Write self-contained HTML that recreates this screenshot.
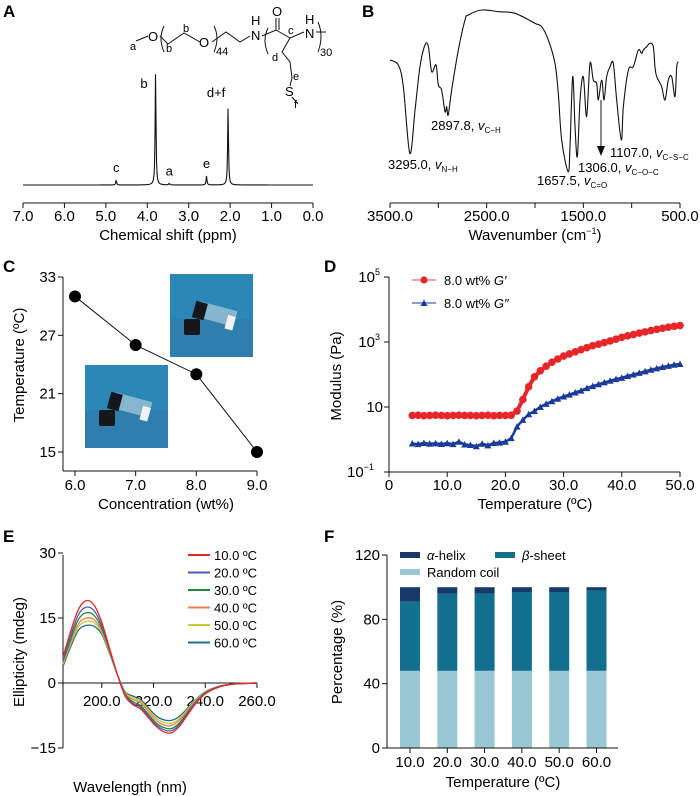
<!DOCTYPE html>
<html><head><meta charset="utf-8"><style>
html,body{margin:0;padding:0;background:#fff}
svg{display:block;font-family:"Liberation Sans",Arial,sans-serif}
</style></head><body>
<svg id="fig" width="700" height="796" viewBox="0 0 700 796">
<g font-weight="bold" font-size="17">
<text x="3" y="17">A</text>
<text x="362" y="17">B</text>
<text x="3" y="272">C</text>
<text x="324" y="272">D</text>
<text x="3" y="542">E</text>
<text x="324" y="542">F</text>
</g>
<!-- structure -->
<g font-size="13" stroke-width="1">
<g fill="none" stroke="#111">
<path d="M136 41 L148 36"/><path d="M160 36 L168 44 L184 33 L200 42"/>
<path d="M212 42 L226 32 L240 42 L250 36"/>
<path d="M262 36 L276 30 L290 38 L304 32"/><path d="M276 30 L276 18"/><path d="M279 30 L279 18"/>
<path d="M290 38 L282 52 L290 62 L292 78 L290 86"/><path d="M292 97 L298 104"/>
<path d="M316 32 L326 32"/>
<path d="M164 26 Q158 38 164 52"/><path d="M214 26 Q220 38 214 52"/>
<path d="M268 28 Q262 40 268 54"/><path d="M318 22 Q324 36 318 52"/>
</g>
<text x="130" y="50" font-size="11">a</text><text x="148" y="41">O</text>
<text x="166" y="52" font-size="11">b</text><text x="183" y="32" font-size="11">b</text>
<text x="199" y="47">O</text><text x="216" y="55" font-size="11">44</text>
<text x="251" y="40">N</text><text x="251" y="25">H</text>
<text x="272" y="16">O</text><text x="288" y="34" font-size="11">c</text>
<text x="305" y="38">N</text><text x="305" y="24">H</text><text x="320" y="56" font-size="11">30</text>
<text x="272" y="61" font-size="11">d</text><text x="293" y="80" font-size="11">e</text>
<text x="285" y="96">S</text><text x="294" y="108" font-size="11">f</text>
</g>
<g id="pA"></g>
<g id="pB"></g>
<g id="pC"></g>
<g id="pD"></g>
<g id="pE"></g>
<g id="pF"></g>
</svg>
<script>
// ---- data ----
const nmrPos=[4.75,3.8,3.47,2.57,2.05];
const nmrHeight=[4.5,100,1.5,8,69];
const nmrLabels=["c","b","a","e","d+f"];
const nmrTicks=[7,6,5,4,3,2,1,0];
const irWn=[3500,3414,3362,3295,3241,3190,3138,3103,3069,3024,3000,2966,2931,2914,2898,2862,2793,2724,2690,2552,2379,2207,2000,1931,1862,1793,1759,1724,1657,1638,1610,1586,1562,1534,1500,1466,1431,1397,1362,1345,1310,1286,1259,1224,1190,1155,1107,1086,1034,983,931,897,879,845,810,776,759,741,690,655,621,586,552,534,517];
const irT=[64,61,48,8,34,60,73,72,57,61,49,46,33,36,31,46,70,88,91,94,93,92,86,84,76,62,44,16,-3,12,54,24,6,40,54,30,62,52,50,40,52,40,54,60,62,40,16,36,58,60,70,68,70,72,74,72,60,54,48,40,52,54,42,60,63];
const irTicks=[3500,3000,2500,2000,1500,1000,500];
const irLabels=["3500.0","2500.0","1500.0","500.0"];
const concX=[6,7,8,9];
const gelT=[31,26,23,15];
const cTicksY=[33,27,21,15];
const cTicksX=[6,7,8,9];
const rheoT=[4,5,6,7,8,9,10,11,12,13,14,15,16,17,18,19,20,21,22,23,24,25,26,27,28,29,30,31,32,33,34,35,36,37,38,39,40,41,42,43,44,45,46,47,48,49,50];
const gPrime=[5.5,5.6,5.4,5.5,5.6,5.5,5.4,5.5,5.6,5.5,5.5,5.4,5.5,5.6,5.4,5.5,5.5,5.6,7.5,17,42,85,130,180,240,300,370,430,500,580,670,770,860,960,1080,1220,1400,1550,1700,1880,2050,2250,2450,2650,2850,3050,3200];
const gDouble=[0.75,0.72,0.78,0.74,0.76,0.73,0.77,0.72,0.85,0.7,0.68,0.62,0.74,0.66,0.78,0.8,0.85,1.1,2.5,4,6,7.5,10,12.5,15,18,21,24,28,32,38,44,50,57,64,72,79,90,100,112,125,140,155,170,185,200,210];
const cdWl=[185,188,191,194,197,200,203,206,209,212,215,218,221,224,227,230,233,236,240,245,250,255,260];
const cd10=[6,12,17,19,18,14,8,2,-3,-5,-6,-8,-10,-11.3,-11.5,-10,-7.5,-5,-2.5,-1,-0.3,-0.1,0];
const cd20=[5.5,11,15.8,17.5,16.7,13.2,7.8,2,-2.8,-4.7,-5.6,-7.6,-9.6,-10.8,-11,-9.6,-7.2,-4.8,-2.4,-0.9,-0.3,-0.1,0];
const cd30=[5,10.2,14.7,16.2,15.6,12.6,7.5,2,-2.6,-4.3,-5.2,-7.2,-9.2,-10.3,-10.5,-9.2,-6.9,-4.6,-2.3,-0.9,-0.3,-0.1,0];
const cd40=[4.6,9.5,13.7,15,14.6,12,7.2,2,-2.4,-3.8,-4.6,-6.6,-8.6,-9.7,-9.8,-8.6,-6.5,-4.4,-2.2,-0.8,-0.3,-0.1,0];
const cd50=[4.3,9,13,14.2,13.9,11.6,7,2,-2.2,-3.4,-4.2,-6.2,-8.1,-9.1,-9.3,-8.2,-6.2,-4.2,-2.1,-0.8,-0.3,-0.1,0];
const cd60=[3.8,8.4,12.2,13.3,13.1,11.2,6.8,2,-2,-3,-3.8,-5.7,-7.6,-8.5,-8.6,-7.7,-5.9,-4,-2,-0.8,-0.3,-0.1,0];
const cdLegend=["10.0 ºC","20.0 ºC","30.0 ºC","40.0 ºC","50.0 ºC","60.0 ºC"];
const secCats=["10.0","20.0","30.0","40.0","50.0","60.0"];
const coil=[48,48,48,48,48,48];
const sheet=[43,48,48,49,49,50];
const helix=[9,4,4,3,3,2];
const fTicks=[0,40,80,120];

const NS="http://www.w3.org/2000/svg";
function mk(parent,tag,attrs,txt){const e=document.createElementNS(NS,tag);for(const k in attrs)e.setAttribute(k,attrs[k]);if(txt!==undefined)e.textContent=txt;parent.appendChild(e);return e;}
function smooth(pts){let d="M"+pts[0][0]+" "+pts[0][1];for(let i=0;i<pts.length-1;i++){const p0=pts[i-1]||pts[i],p1=pts[i],p2=pts[i+1],p3=pts[i+2]||p2;d+=" C"+(p1[0]+(p2[0]-p0[0])/6)+" "+(p1[1]+(p2[1]-p0[1])/6)+" "+(p2[0]-(p3[0]-p1[0])/6)+" "+(p2[1]-(p3[1]-p1[1])/6)+" "+p2[0]+" "+p2[1];}return d;}

// ---- A ----
(function(){const g=document.getElementById('pA');
const x=v=>23+(7-v)/7*290, y=v=>185-v*1.13;
let d="";for(let px=23;px<=313;px+=0.5){const v=7-(px-23)/290*7;let s=0;for(let i=0;i<nmrPos.length;i++){const w=0.012;s+=nmrHeight[i]*w*w/((v-nmrPos[i])**2+w*w);}d+=(d?"L":"M")+px+" "+y(s).toFixed(2);}
let e=mk(g,'path',{d:d,fill:'none',stroke:'#111','stroke-width':1.1});

nmrLabels.forEach((l,i)=>{const t=mk(g,'text',{x:x(nmrPos[i])+(i==1?-8:i==4?-12:0),y:(i==1?88:y(nmrHeight[i])-8+(i==4?-2:0)),'font-size':13,'text-anchor':i==1?'end':'middle'},l);});
mk(g,'line',{x1:23,x2:313,y1:203,y2:203,stroke:'#111'});
nmrTicks.forEach(v=>{mk(g,'line',{x1:x(v),x2:x(v),y1:203,y2:208,stroke:'#111'});const t=mk(g,'text',{x:x(v),y:221,'font-size':15,'text-anchor':'middle'},v.toFixed(1));});
const t=mk(g,'text',{x:168,y:240,'font-size':15,'text-anchor':'middle'},'Chemical shift (ppm)');
})();

// ---- B ----
(function(){const g=document.getElementById('pB');
const x=v=>390+(3500-v)/3000*290, y=v=>166.7-1.667*v;
const pts=irWn.map((w,i)=>[x(w),y(irT[i])]);
let e=mk(g,'path',{d:smooth(pts),fill:'none',stroke:'#111','stroke-width':1.1});

mk(g,'line',{x1:390,x2:680,y1:203,y2:203,stroke:'#111'});
irTicks.forEach(v=>mk(g,'line',{x1:x(v),x2:x(v),y1:203,y2:208,stroke:'#111'}));
irLabels.forEach(l=>{const t=mk(g,'text',{x:x(parseFloat(l)),y:221,'font-size':15,'text-anchor':'middle'},l);});
const tt=mk(g,'text',{x:535,y:240,'font-size':15,'text-anchor':'middle'});tt.innerHTML='Wavenumber (cm<tspan font-size="9" dy="-6">−1</tspan><tspan dy="6">)</tspan>';

mk(g,'line',{x1:601,x2:601,y1:100,y2:150,stroke:'#111'});mk(g,'path',{d:'M597 146 L605 146 L601 156 Z',fill:'#111'});
const ann=[[431,130,'2897.8, ','C−H'],[388,169,'3295.0, ','N−H'],[537,185,'1657.5, ','C=O'],[578,172,'1306.0, ','C−O−C'],[610,157,'1107.0, ','C−S−C']];
ann.forEach(a=>{const t=mk(g,'text',{x:a[0],y:a[1],'font-size':13});t.innerHTML=a[2]+'<tspan font-style="italic">v</tspan><tspan font-size="8" dy="3">'+a[3]+'</tspan>';});
})();

// ---- C ----
(function(){const g=document.getElementById('pC');
const x=v=>75+(v-6)/3*182, y=v=>277+(33-v)/18*175;
[[170,274],[85,365]].forEach((p,i)=>{const ph=mk(g,'g',{});
mk(ph,'rect',{x:p[0],y:p[1],width:83,height:83,fill:'#2b87b6'});mk(ph,'rect',{x:p[0],y:p[1]+45,width:83,height:38,fill:'#2f7fae'});
mk(ph,'rect',{x:p[0]+28,y:p[1]+32,width:38,height:16,fill:'#d4dde4',opacity:0.55,transform:'rotate(15 '+(p[0]+47)+' '+(p[1]+40)+')'});
mk(ph,'rect',{x:p[0]+58,y:p[1]+38,width:8,height:14,fill:'#f2f2f2',transform:'rotate(15 '+(p[0]+47)+' '+(p[1]+40)+')'});
mk(ph,'rect',{x:p[0]+24,y:p[1]+28,width:12,height:17,fill:'#15171d',transform:'rotate(15 '+(p[0]+30)+' '+(p[1]+36)+')'});
mk(ph,'rect',{x:p[0]+14,y:p[1]+45,width:16,height:16,rx:2,fill:'#15171d'});});
mk(g,'line',{x1:63,x2:63,y1:277,y2:471,stroke:'#111'});mk(g,'line',{x1:63,x2:257,y1:471,y2:471,stroke:'#111'});
cTicksY.forEach(v=>{mk(g,'line',{x1:58,x2:63,y1:y(v),y2:y(v),stroke:'#111'});const t=mk(g,'text',{x:56,y:y(v)+5,'font-size':15,'text-anchor':'end'},v);});
cTicksX.forEach(v=>{mk(g,'line',{x1:x(v),x2:x(v),y1:471,y2:476,stroke:'#111'});const t=mk(g,'text',{x:x(v),y:490,'font-size':15,'text-anchor':'middle'},v.toFixed(1));});
const line=mk(g,'polyline',{points:concX.map((c,i)=>x(c)+','+y(gelT[i])).join(' '),fill:'none',stroke:'#111','stroke-width':1});

concX.forEach((c,i)=>{const m=mk(g,'circle',{cx:x(c),cy:y(gelT[i]),r:6,fill:'#000'});});
let t=mk(g,'text',{x:166,y:509,'font-size':15,'text-anchor':'middle'},'Concentration (wt%)');
t=mk(g,'text',{x:0,y:0,'font-size':15,'text-anchor':'middle',transform:'translate(24 365) rotate(-90)'},'Temperature (ºC)');
})();

// ---- D ----
(function(){const g=document.getElementById('pD');
const x=v=>389+v/50*291, y=v=>472-(Math.log10(v)+1)*32.5;
mk(g,'line',{x1:389,x2:389,y1:277,y2:472,stroke:'#111'});mk(g,'line',{x1:389,x2:680,y1:472,y2:472,stroke:'#111'});
[[0.1,'10','−1'],[10,'10',''],[1000,'10','3'],[100000,'10','5']].forEach(a=>{mk(g,'line',{x1:384,x2:389,y1:y(a[0]),y2:y(a[0]),stroke:'#111'});const t=mk(g,'text',{x:a[2]?(a[2]=='−1'?374:380):383,y:y(a[0])+5,'font-size':15,'text-anchor':'end'});t.innerHTML=a[1]+(a[2]?'<tspan font-size="9" dy="-7">'+a[2]+'</tspan>':'');});
[0,10,20,30,40,50].forEach(v=>{mk(g,'line',{x1:x(v),x2:x(v),y1:472,y2:477,stroke:'#111'});const t=mk(g,'text',{x:x(v),y:490,'font-size':15,'text-anchor':'middle'},v?v.toFixed(1):'0');});
let p=mk(g,'polyline',{points:rheoT.map((T,i)=>x(T)+','+y(gDouble[i])).join(' '),fill:'none',stroke:'#1a3a9a','stroke-width':2.5});
rheoT.forEach((T,i)=>{const cx=x(T),cy=y(gDouble[i]);const m=mk(g,'path',{d:`M${cx-3.5} ${cy+3} L${cx+3.5} ${cy+3} L${cx} ${cy-3.5} Z`,fill:'#1a3a9a'});});
p=mk(g,'polyline',{points:rheoT.map((T,i)=>x(T)+','+y(gPrime[i])).join(' '),fill:'none',stroke:'#e8262a','stroke-width':4});
rheoT.forEach((T,i)=>{const m=mk(g,'circle',{cx:x(T),cy:y(gPrime[i]),r:3.8,fill:'#e8262a'});});
mk(g,'line',{x1:412,x2:436,y1:280,y2:280,stroke:'#f4a0a0','stroke-width':2});mk(g,'circle',{cx:424,cy:280,r:3.6,fill:'#e8262a'});
let t=mk(g,'text',{x:444,y:285,'font-size':13});t.innerHTML='8.0 wt% <tspan font-style="italic">G′</tspan>';
mk(g,'line',{x1:412,x2:436,y1:303,y2:303,stroke:'#6a7ac0','stroke-width':1.5});mk(g,'path',{d:'M420.5 306 L427.5 306 L424 299.5 Z',fill:'#1a3a9a'});
t=mk(g,'text',{x:444,y:308,'font-size':13});t.innerHTML='8.0 wt% <tspan font-style="italic">G″</tspan>';
t=mk(g,'text',{x:535,y:509,'font-size':15,'text-anchor':'middle'},'Temperature (ºC)');
t=mk(g,'text',{x:0,y:0,'font-size':15,'text-anchor':'middle',transform:'translate(341 376) rotate(-90)'},'Modulus (Pa)');
})();

// ---- E ----
(function(){const g=document.getElementById('pE');
const x=v=>63+(v-185)/75*194, y=v=>683-v*4.333;
mk(g,'line',{x1:63,x2:63,y1:555,y2:748,stroke:'#111'});mk(g,'line',{x1:63,x2:257,y1:683,y2:683,stroke:'#111'});
[30,15,0,-15].forEach(v=>{mk(g,'line',{x1:58,x2:63,y1:y(v),y2:y(v),stroke:'#111'});const t=mk(g,'text',{x:56,y:y(v)+5,'font-size':15,'text-anchor':'end'},v<0?'−'+(-v):v);});
[200,220,240,260].forEach(v=>{mk(g,'line',{x1:x(v),x2:x(v),y1:683,y2:688,stroke:'#111'});const t=mk(g,'text',{x:x(v),y:706,'font-size':15,'text-anchor':'middle'},v.toFixed(1));});
const series=[cd60,cd50,cd40,cd30,cd20,cd10];const cols=['#1f6f8f','#c8c83a','#f07f4f','#1f8a3a','#4a5fb0','#e8262a'];
series.forEach((s,i)=>{const p=mk(g,'path',{d:smooth(cdWl.map((w,j)=>[x(w),y(s[j])])),fill:'none',stroke:cols[i],'stroke-width':1.3});});
cdLegend.forEach((l,i)=>{const yy=555+i*17.5;mk(g,'line',{x1:188,x2:210,y1:yy,y2:yy,stroke:cols[5-i],'stroke-width':2});const t=mk(g,'text',{x:214,y:yy+5,'font-size':13},l);});
let t=mk(g,'text',{x:130,y:792,'font-size':15,'text-anchor':'middle'},'Wavelength (nm)');
t=mk(g,'text',{x:0,y:0,'font-size':15,'text-anchor':'middle',transform:'translate(24 652) rotate(-90)'},'Ellipticity (mdeg)');
})();

// ---- F ----
(function(){const g=document.getElementById('pF');
const y=v=>748-v*1.608, x=i=>410+i*37.3;
secCats.forEach((c,i)=>{const parts=[[0,coil[i],'#9ac7d4','random-coil'],[coil[i],sheet[i],'#12708f','beta-sheet'],[coil[i]+sheet[i],helix[i],'#173a6a','alpha-helix']];
parts.forEach(p=>{const r=mk(g,'rect',{x:x(i)-10,y:y(p[0]+p[1]),width:20,height:p[1]*1.608,fill:p[2]});});
mk(g,'line',{x1:x(i),x2:x(i),y1:748,y2:753,stroke:'#111'});const t=mk(g,'text',{x:x(i),y:767,'font-size':15,'text-anchor':'middle'},c);});
mk(g,'line',{x1:387,x2:387,y1:555,y2:748,stroke:'#111'});mk(g,'line',{x1:387,x2:618,y1:748,y2:748,stroke:'#111'});
fTicks.forEach(v=>{mk(g,'line',{x1:382,x2:387,y1:y(v),y2:y(v),stroke:'#111'});const t=mk(g,'text',{x:380,y:y(v)+5,'font-size':15,'text-anchor':'end'},v);});
[[400,555,'#173a6a','<tspan font-style="italic">α</tspan>-helix'],[495,555,'#12708f','<tspan font-style="italic">β</tspan>-sheet'],[400,572,'#9ac7d4','Random coil']].forEach(l=>{mk(g,'rect',{x:l[0],y:l[1]-3,width:20,height:6,fill:l[2]});const t=mk(g,'text',{x:l[0]+27,y:l[1]+5,'font-size':13});t.innerHTML=l[3];});
let t=mk(g,'text',{x:503,y:787,'font-size':15,'text-anchor':'middle'},'Temperature (ºC)');
t=mk(g,'text',{x:0,y:0,'font-size':15,'text-anchor':'middle',transform:'translate(342 652) rotate(-90)'},'Percentage (%)');
})();
</script>
</body></html>
